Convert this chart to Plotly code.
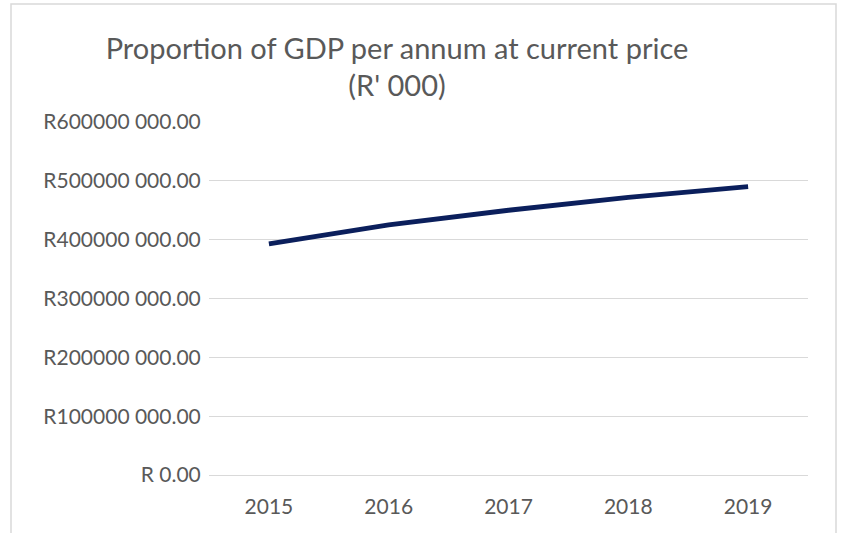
import plotly.graph_objects as go

years = ["2015", "2016", "2017", "2018", "2019"]
gdp_values = [393e6, 425e6, 450e6, 472e6, 490e6]
y_tick_vals = [0, 100e6, 200e6, 300e6, 400e6, 500e6, 600e6]
y_tick_labels = ["R 0.00", "R100000 000.00", "R200000 000.00", "R300000 000.00",
                 "R400000 000.00", "R500000 000.00", "R600000 000.00"]
title_text = "Proportion of GDP per annum at current price<br>(R' 000)"

L, R, T, B = 209, 808, 122, 475
fig = go.Figure()
fig.add_trace(go.Scatter(
    x=years, y=gdp_values, mode="lines",
    line=dict(color="#0b1f5c", width=4.8),
    showlegend=False, hoverinfo="x+y"))

fig.update_layout(
    width=842, height=533,
    margin=dict(l=L, r=842 - R, t=T, b=533 - B),
    paper_bgcolor="white", plot_bgcolor="white",
    title=dict(text=title_text, x=0.4715, xanchor="center", y=0.89, yanchor="top",
               font=dict(family="Lato, sans-serif", size=29, color="#595959")),
    font=dict(family="Lato, sans-serif", size=21, color="#595959"),
    xaxis=dict(type="category", range=[-0.5, 4.5], showgrid=False, showline=False,
               zeroline=False, ticks="outside", ticklen=13, tickcolor="rgba(0,0,0,0)",
               tickfont=dict(size=21, color="#595959")),
    yaxis=dict(range=[0, 600e6], tickvals=y_tick_vals, ticktext=y_tick_labels,
               showgrid=True, gridcolor="#d9d9d9", gridwidth=1.3,
               zeroline=True, zerolinecolor="#d9d9d9", zerolinewidth=1.3,
               showline=False, ticks="outside", ticklen=3, tickcolor="rgba(0,0,0,0)",
               tickfont=dict(size=21, color="#595959")),
)

# chart border (light grey frame)
pw, ph = R - L, B - T
fig.add_shape(type="path", xref="paper", yref="paper",
              path="M %f %f L %f %f L %f %f L %f %f" % (
                  (11 - L) / pw, -0.2, (11 - L) / pw, (B - 4) / ph,
                  (836 - L) / pw, (B - 4) / ph, (836 - L) / pw, -0.2),
              line=dict(color="#d9d9d9", width=1.5))

fig.write_html("out.html", config={"displayModeBar": False},
               post_script="document.body.style.margin='0';")
